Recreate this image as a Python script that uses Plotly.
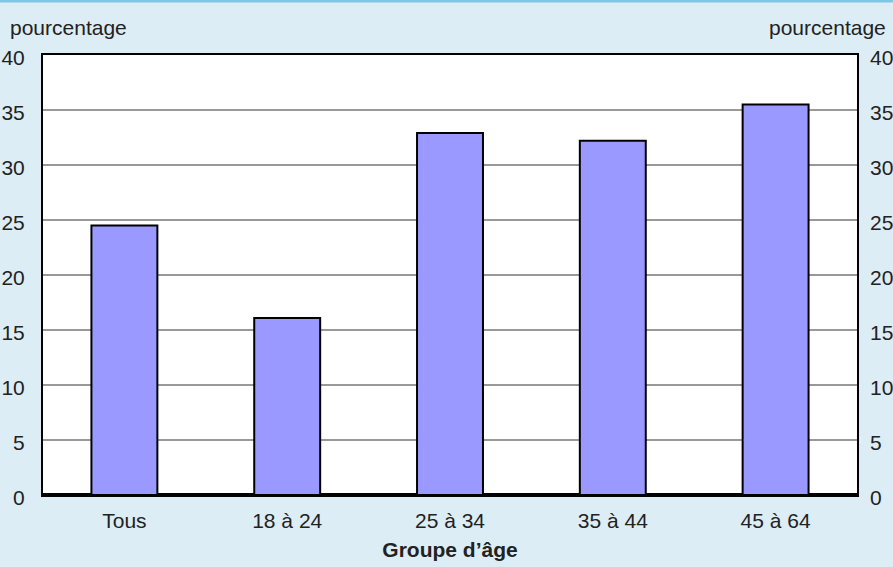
import plotly.graph_objects as go

categories = ["Tous", "18 à 24", "25 à 34", "35 à 44", "45 à 64"]
values = [24.5, 16.1, 32.9, 32.2, 35.5]
y_ticks = [0, 5, 10, 15, 20, 25, 30, 35, 40]

FONT = "Liberation Sans Narrow, Arial Narrow, Liberation Sans, sans-serif"
BG = "#ddedf5"
FS = 21

fig = go.Figure()
fig.add_trace(go.Bar(
    x=categories, y=values,
    marker=dict(color="#9999ff", line=dict(color="#000000", width=2)),
    width=0.405, showlegend=False, hoverinfo="skip"))
fig.add_trace(go.Scatter(x=categories, y=values, yaxis="y2", mode="markers",
                         marker=dict(opacity=0), showlegend=False, hoverinfo="skip"))

fig.update_layout(
    width=893, height=567,
    paper_bgcolor=BG, plot_bgcolor="#ffffff",
    margin=dict(l=43, r=36, t=55, b=72, autoexpand=False),
    font=dict(family=FONT, size=FS, color="#222222"),
    xaxis=dict(showgrid=False, ticks="", showline=True, linecolor="#000000", linewidth=2,
               mirror=True, ticklabelstandoff=6, automargin=False,
               title=dict(text="<b>Groupe d’âge</b>", standoff=11,
                          font=dict(size=FS, color="#222222")),
               tickfont=dict(size=FS)),
    yaxis=dict(range=[0, 40], tickvals=y_ticks, showgrid=True, gridcolor="#999999",
               gridwidth=1.5, showline=True, linecolor="#000000", linewidth=2, mirror=True,
               zeroline=True, zerolinecolor="#000000", zerolinewidth=4, automargin=False,
               ticks="", ticklabelstandoff=12, ticklabelshift=3, tickfont=dict(size=FS)),
    yaxis2=dict(range=[0, 40], tickvals=y_ticks, overlaying="y", side="right",
                showgrid=False, zeroline=False, showline=False, ticks="", automargin=False,
                ticklabelstandoff=12, ticklabelshift=3, tickfont=dict(size=FS)),
    annotations=[
        dict(text="pourcentage", xref="paper", yref="paper", x=-35/814, y=1, yshift=28,
             xanchor="left", yanchor="middle", showarrow=False, font=dict(size=FS)),
        dict(text="pourcentage", xref="paper", yref="paper", x=1+31/814, y=1, yshift=28,
             xanchor="right", yanchor="middle", showarrow=False, font=dict(size=FS)),
    ],
)
fig.add_shape(type="line", xref="paper", yref="paper", x0=-43/814, x1=1+36/814,
              y0=1+54/440, y1=1+54/440, line=dict(color="#7fc6e6", width=3))

fig.write_html("out.html", config={"displayModeBar": False},
               post_script="document.body.style.margin='0';")
